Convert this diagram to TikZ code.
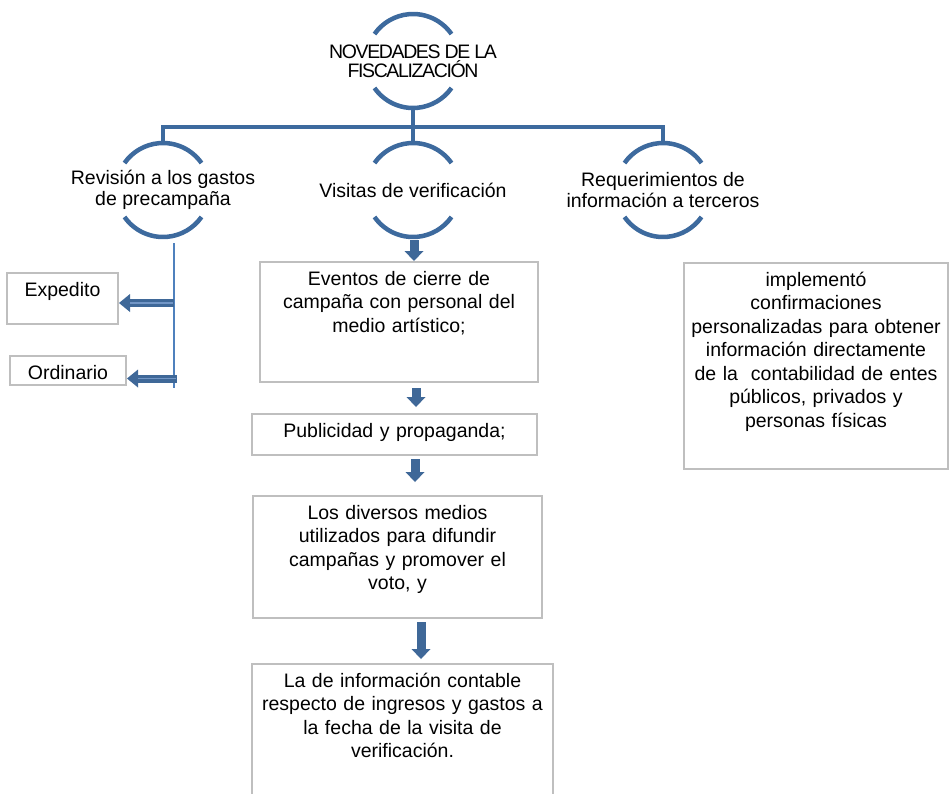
\documentclass[tikz,border=0pt]{standalone}
\usepackage{fontspec}
\setmainfont{Liberation Sans}
\newfontfamily\titulofont[LetterSpace=-7]{Liberation Sans}
\usetikzlibrary{arrows.meta,calc}
\definecolor{ramacolor}{HTML}{3D6A9E}
\definecolor{lineaclara}{HTML}{4F81BD}
\definecolor{bordegris}{HTML}{BFBFBF}
\definecolor{flechacolor}{HTML}{3F6898}
\definecolor{brillo}{HTML}{7296C6}
\definecolor{tinta}{HTML}{000000}
\tikzset{
  tema/.style={
    text=tinta,
    align=center,
    inner sep=0pt,
    font=\fontsize{19.5}{21}\selectfont
  },
  titulo/.style={
    tema,
    font=\titulofont\fontsize{19.5}{19}\selectfont
  },
  arco/.style={
    draw=ramacolor,
    line width=4.5pt
  },
  rama/.style={
    draw=ramacolor,
    line width=4.5pt,
    line join=miter
  },
  cuadro/.style={
    draw=bordegris,
    line width=2pt,
    text=tinta,
    anchor=north,
    align=center,
    inner xsep=4pt,
    inner ysep=6pt,
    text height=17pt,
    font=\fontsize{19.5}{23.5}\selectfont
  },
  guia/.style={
    draw=lineaclara,
    line width=1.8pt
  },
  bajada/.style={
    -{Triangle[length=10pt,width=19pt,line width=0pt]},
    draw=flechacolor,
    line width=9pt
  },
  lateral/.style={
    -{Triangle[length=11pt,width=18pt,line width=0pt]},
    draw=flechacolor,
    line width=8pt,
    postaction={draw=brillo,line width=1.2pt,-,shorten >=11pt,shorten <=1pt}
  }
}

\begin{document}
\begin{tikzpicture}[x=1pt,y=-1pt]
  \useasboundingbox (0,0) rectangle (950,793);

  % Title and the three branches, each between two arcs.
  \node[titulo] (novedades) at (413,61) {NOVEDADES DE LA\\FISCALIZACIÓN};
  \node[tema] (revision) at (163,190) {Revisión a los gastos\\de precampaña};
  \node[tema] (visitas) at (413,190) {Visitas de verificación};
  \node[tema] (requerimientos) at (663,190) {Requerimientos de\\información a terceros};

  \foreach \n in {novedades,revision,visitas,requerimientos}{
    \draw[arco] ([shift={(35:47pt)}]\n.center) arc[start angle=35,end angle=145,radius=47pt];
    \draw[arco] ([shift={(215:47pt)}]\n.center) arc[start angle=215,end angle=325,radius=47pt];
  }

  \coordinate (bus) at (413,127);
  \draw[rama] ([yshift=-47pt]novedades.center) -- (bus);
  \draw[rama] ([yshift=47pt]revision.center) |- (bus) -| ([yshift=47pt]requerimientos.center);
  \draw[rama] (bus) -- ([yshift=47pt]visitas.center);

  % Left branch: the two kinds of review.
  \coordinate (guiaarriba) at (174,243);
  \coordinate (guiaabajo) at (174,388);
  \draw[guia] (guiaarriba) -- (guiaabajo);

  \node[cuadro,text width=103pt,text depth=22pt] (expedito) at (62.5,272) {Expedito};
  \node[cuadro,text width=108pt,text depth=0pt] (ordinario) at (68,355) {Ordinario};

  \draw[lateral] ($(expedito.east -| guiaarriba)+(0,4.5)$) -- ($(expedito.east)+(0,4.5)$);
  \draw[lateral] ($(ordinario.east -| guiaarriba)+(3,8)$) -- ($(ordinario.east)+(0,8)$);

  % Middle column of verification visits.
  \node[cuadro,text width=270pt,text depth=91pt] (eventos) at (399,261)
    {Eventos de cierre de\\campaña con personal del\\medio artístico;};
  \node[cuadro,text width=277pt,text depth=12pt] (publicidad) at (394.5,413)
    {Publicidad y propaganda;};
  \node[cuadro,text width=281pt,text depth=93pt] (medios) at (397.5,495)
    {Los diversos medios\\utilizados para difundir\\campañas y promover el\\voto, y};
  \node[cuadro,text width=293pt,text depth=121pt] (contable) at (402.5,663)
    {La de información contable\\respecto de ingresos y gastos a\\la fecha de la visita de\\verificación.};

  \draw[bajada] ($(visitas.center)+(1,50)$) -- ($(visitas.center |- eventos.north)+(1,0)$);
  \draw[bajada] ($(eventos.south -| visitas.center)+(3,5)$) -- ($(publicidad.north -| visitas.center)+(3,-6)$);
  \draw[bajada] ($(publicidad.south -| visitas.center)+(2,3)$) -- ($(medios.north -| visitas.center)+(2,-13)$);
  \draw[bajada] ($(medios.south -| visitas.center)+(8,3)$) -- ($(contable.north -| visitas.center)+(8,-4)$);

  % Right branch.
  \node[cuadro,text width=256pt,text depth=177pt] (implemento) at (816,262)
    {implementó\\confirmaciones\\personalizadas para obtener\\información directamente\\de la~ contabilidad de entes\\públicos, privados y\\personas físicas};

\end{tikzpicture}
\end{document}
